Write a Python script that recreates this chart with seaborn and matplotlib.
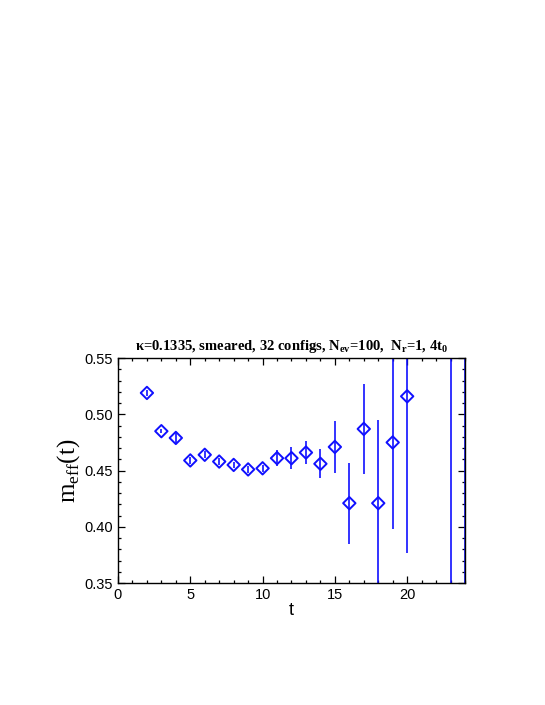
import numpy as np
import pandas as pd
import seaborn as sns
import matplotlib.pyplot as plt
from matplotlib.ticker import MultipleLocator, FormatStrFormatter

# effective mass data
t_vals = [2, 3, 4, 5, 6, 7, 8, 9, 10, 11, 12, 13, 14, 15, 16, 17, 18, 19, 20, 23, 24]
m_eff = [0.519, 0.485, 0.479, 0.459, 0.464, 0.458, 0.455, 0.451, 0.452, 0.461, 0.461,
         0.466, 0.456, 0.471, 0.421, 0.487, 0.421, 0.475, 0.516, 0.62, 0.30]
m_err = [0.003, 0.002, 0.005, 0.003, 0.003, 0.003, 0.003, 0.003, 0.003, 0.007, 0.010,
         0.010, 0.013, 0.023, 0.036, 0.040, 0.074, 0.077, 0.139, 0.60, 0.60]

df = pd.DataFrame({"t": t_vals, "m": m_eff, "err": m_err})

sns.set_style("ticks")
plt.rcParams["font.family"] = ["Liberation Sans", "DejaVu Sans"]
plt.rcParams["text.color"] = "black"
plt.rcParams["axes.labelcolor"] = "black"
plt.rcParams["xtick.color"] = "black"
plt.rcParams["ytick.color"] = "black"

blue = "#1010ff"
fig = plt.figure(figsize=(5.45, 7.05), dpi=100)
ax = fig.add_axes([0.2165, 0.173, 0.6367, 0.3191])

ax.errorbar(df["t"], df["m"], yerr=df["err"], fmt="none", ecolor=blue, elinewidth=1.2, capsize=0)
sns.scatterplot(data=df, x="t", y="m", marker="D", s=40, fc="none", ec=blue, linewidth=1.4, ax=ax, zorder=3)

ax.set_xlim(0, 24)
ax.set_ylim(0.35, 0.55)
ax.xaxis.set_major_locator(MultipleLocator(5))
ax.xaxis.set_minor_locator(MultipleLocator(1))
ax.yaxis.set_major_locator(MultipleLocator(0.05))
ax.yaxis.set_minor_locator(MultipleLocator(0.01))
ax.yaxis.set_major_formatter(FormatStrFormatter("%.2f"))
ax.tick_params(which="both", direction="in", top=True, right=True, width=0.9)
ax.tick_params(which="major", length=5, labelsize=10.5)
ax.tick_params(which="minor", length=2.5)
for s in ax.spines.values():
    s.set_linewidth(1.0)
    s.set_color("black")

ax.set_xlabel("t", fontsize=13, labelpad=0)
ax.set_ylabel(r"m$_{\mathregular{eff}}$(t)", fontsize=18, family="Liberation Serif", labelpad=2)
ax.set_title(r"κ=0.1335, smeared, 32 configs, N$_{\mathregular{ev}}$=100,  N$_{\mathregular{r}}$=1, 4t$_{\mathregular{0}}$",
             fontsize=10.5, fontweight="bold", family="Liberation Serif", pad=6)

fig.savefig("out.png", dpi=100)
